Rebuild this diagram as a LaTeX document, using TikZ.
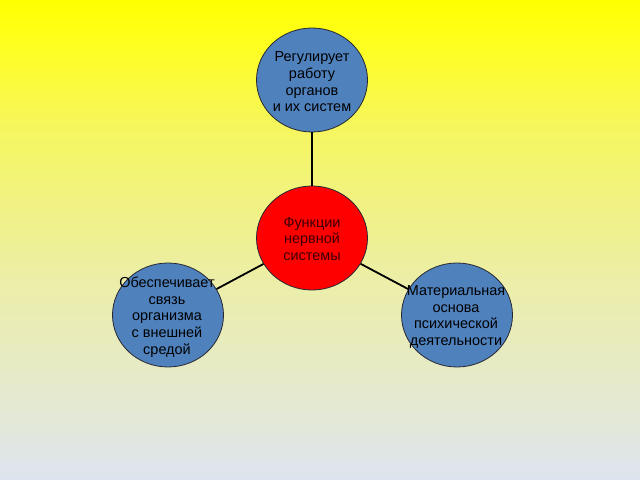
\documentclass[tikz,border=0pt]{standalone}
\usepackage{fontspec}
\setmainfont{Liberation Sans}
\usetikzlibrary{shapes.geometric}
\definecolor{bluefill}{RGB}{79,129,189}
\definecolor{redfill}{RGB}{255,0,0}
\definecolor{rimcol}{RGB}{40,40,50}
\definecolor{centertext}{RGB}{60,0,0}
\definecolor{bgA}{RGB}{221,228,240}
\definecolor{bgB}{RGB}{228,233,212}
\definecolor{bgC}{RGB}{236,238,168}
\definecolor{bgD}{RGB}{245,246,95}
\definecolor{bgE}{RGB}{255,255,25}
\definecolor{bgF}{RGB}{255,255,0}
\pgfdeclareverticalshading{bgshade}{100bp}{color(0bp)=(bgA); color(25bp)=(bgA); color(32.3bp)=(bgB); color(45.8bp)=(bgC); color(61.5bp)=(bgD); color(71.4bp)=(bgE); color(75bp)=(bgF); color(100bp)=(bgF)}
\tikzset{
  bubble/.style={ellipse, draw=rimcol, line width=0.8bp, minimum width=111bp, minimum height=104bp, inner sep=0pt},
  bluebubble/.style={bubble, fill=bluefill},
  redbubble/.style={bubble, fill=redfill},
  txt/.style={align=center, font=\fontsize{14.5}{16.7}\selectfont, inner sep=0pt, text=black},
  link/.style={line width=1.8bp, draw=black}
}
\begin{document}
\begin{tikzpicture}[x=1bp, y=-1bp]
\useasboundingbox (0,0) rectangle (640,480);
\begin{scope}[y=1bp]
\shade[shading=bgshade] (0,-480) rectangle (640,0);
\end{scope}
\node[bluebubble] (top) at (312,80) {};
\node[redbubble] (mid) at (312,238) {};
\node[bluebubble] (left) at (168,315) {};
\node[bluebubble] (right) at (457,315) {};
\draw[link] (top) -- (mid);
\draw[link] (mid) -- (left);
\draw[link] (mid) -- (right);
\node[txt] (toptxt) at (312,82) {Регулирует\\работу\\органов\\ и их систем};
\node[txt, text=centertext] (midtxt) at (312,239) {Функции\\нервной\\системы};
\node[txt] (lefttxt) at (167,317) {Обеспечивает\\связь\\организма\\с внешней\\средой};
\node[txt] (righttxt) at (456,317) {Материальная\\основа\\психической\\ деятельности};
\end{tikzpicture}
\end{document}
